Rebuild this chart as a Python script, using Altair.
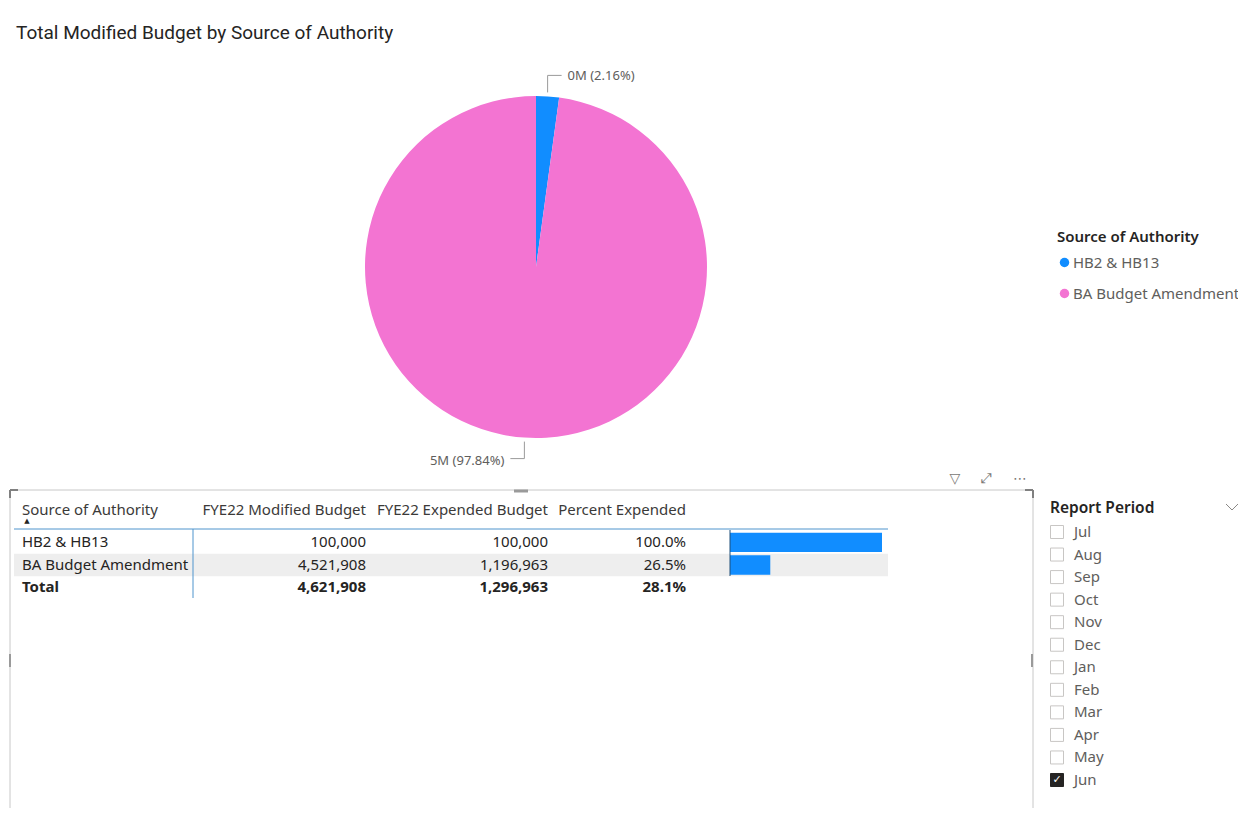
import altair as alt
import pandas as pd

# ---------------- data ----------------
TITLE = "Total Modified Budget by Source of Authority"
sources = ["HB2 & HB13", "BA Budget Amendment"]
modified = [100000, 4521908]
expended = [100000, 1196963]
pct_expended = [1.000, 0.265]
total_label = "Total"
total_modified = 4621908
total_expended = 1296963
total_pct = 0.281
pie_colors = ["#118DFF", "#F374D2"]
headers = ["Source of Authority", "FYE22 Modified Budget", "FYE22 Expended Budget", "Percent Expended"]
slicer_title = "Report Period"
months = ["Jul", "Aug", "Sep", "Oct", "Nov", "Dec", "Jan", "Feb", "Mar", "Apr", "May", "Jun"]
checked = [False, False, False, False, False, False, False, False, False, False, False, True]

FONT = "Segoe UI, Noto Sans, sans-serif"
TXT = "#252423"
GRAY = "#605e5c"
O = 8  # page margin offset


def P(v):
    return v - O


# ---------------- pie ----------------
pie_df = pd.DataFrame({"source": sources, "value": modified, "order": list(range(len(sources)))})
CX, CY, R = P(536), P(267), 171

pie = alt.Chart(pie_df).mark_arc(radius=R).encode(
    theta=alt.Theta("value:Q", stack=True),
    color=alt.Color(
        "source:N",
        scale=alt.Scale(domain=sources, range=pie_colors),
        legend=alt.Legend(
            orient="none", legendX=P(1057), legendY=P(230),
            title="Source of Authority", titleFont=FONT, titleFontSize=15,
            titleFontWeight=600, titleColor=TXT, titlePadding=10,
            labelFont=FONT, labelFontSize=15, labelColor=GRAY, labelOffset=1, labelLimit=0,
            symbolType="circle", symbolSize=90, symbolStrokeWidth=0, rowPadding=15,
        ),
    ),
    order=alt.Order("order:Q"),
    x=alt.value(CX),
    y=alt.value(CY),
)

lab_base = alt.Chart(pie_df).transform_joinaggregate(
    total="sum(value)"
).transform_window(
    cum="sum(value)", sort=[alt.SortField("order")]
).transform_calculate(
    mid="(datum.cum - datum.value/2)/datum.total*2*PI",
    px=f"{CX} + {R}*sin(datum.mid)",
    py=f"{CY} - {R}*cos(datum.mid)",
    vs="cos(datum.mid) >= 0 ? -1 : 1",
    hs="sin(datum.mid) >= 0 ? 1 : -1",
    ey="datum.py + datum.vs*21",
    y0="datum.py + datum.vs*4",
    ex="datum.px + datum.hs*14",
    tx="datum.px + datum.hs*20",
    label="format(datum.value/1e6, '.0f') + 'M (' + format(datum.value/datum.total, '.2%') + ')'",
)

lead_v = lab_base.mark_rule(color="#9a9a9a", strokeWidth=1).encode(
    x=alt.X("px:Q", scale=None), y=alt.Y("y0:Q", scale=None), y2="ey:Q"
)
lead_h = lab_base.mark_rule(color="#9a9a9a", strokeWidth=1).encode(
    x=alt.X("px:Q", scale=None), x2="ex:Q", y=alt.Y("ey:Q", scale=None)
)
lab_r = lab_base.transform_filter("datum.hs > 0").mark_text(
    align="left", baseline="middle", font=FONT, fontSize=13, color=GRAY, dy=1
).encode(x=alt.X("tx:Q", scale=None), y=alt.Y("ey:Q", scale=None), text="label:N")
lab_l = lab_base.transform_filter("datum.hs < 0").mark_text(
    align="right", baseline="middle", font=FONT, fontSize=13, color=GRAY, dy=2
).encode(x=alt.X("tx:Q", scale=None), y=alt.Y("ey:Q", scale=None), text="label:N")

title_df = pd.DataFrame({"t": [TITLE]})
title = alt.Chart(title_df).mark_text(
    align="left", baseline="alphabetic", font="Roboto", fontSize=19, fontWeight="normal", color=TXT
).encode(x=alt.value(P(16)), y=alt.value(P(39)), text="t:N")

# ---------------- table ----------------
rows = sources + [total_label]
tab_df = pd.DataFrame({
    "source": rows,
    "modified": modified + [total_modified],
    "expended": expended + [total_expended],
    "pct": pct_expended + [total_pct],
    "is_total": [False] * len(sources) + [True],
    "rn": list(range(len(rows))),
})

row_point = alt.Scale(type="point", domain=rows, range=[P(542), P(587)], padding=0)
row_band0 = alt.Scale(type="band", domain=rows, range=[P(531), P(599)], paddingInner=0, paddingOuter=0)
row_band = alt.Scale(type="band", domain=rows, range=[P(531), P(599)], paddingInner=0.15, paddingOuter=0.075)

stripe = alt.Chart(tab_df).transform_filter("datum.rn % 2 == 1 && !datum.is_total").mark_rect(
    color="#eeeeee"
).encode(x=alt.value(P(14)), x2=alt.value(P(888)), y=alt.Y("source:N", scale=row_band0, axis=None))

bars = alt.Chart(tab_df).transform_filter("!datum.is_total").mark_bar(color="#118DFF").encode(
    x=alt.X("pct:Q", scale=alt.Scale(domain=[0, 1], range=[P(730), P(882)]), axis=None),
    y=alt.Y("source:N", scale=row_band, axis=None),
)

col_x = {"source": P(22), "modified": P(366), "expended": P(548), "pct": P(686)}


def col_layer(field, align, fmt, bold):
    cond = "datum.is_total" if bold else "!datum.is_total"
    if fmt:
        txt = alt.Text(f"{field}:Q", format=fmt)
    else:
        txt = alt.Text(f"{field}:N")
    return alt.Chart(tab_df).transform_filter(cond).mark_text(
        align=align, baseline="middle", font=FONT, fontSize=15, color=TXT,
        fontWeight="bold" if bold else "normal",
    ).encode(x=alt.value(col_x[field]), y=alt.Y("source:N", scale=row_point, axis=None), text=txt)


table_layers = []
for b in (False, True):
    table_layers += [
        col_layer("source", "left", None, b),
        col_layer("modified", "right", ",", b),
        col_layer("expended", "right", ",", b),
        col_layer("pct", "right", ".1%", b),
    ]

hdr_df = pd.DataFrame({"h": headers, "key": ["source", "modified", "expended", "pct"]})
hdr_layers = []
for i, key in enumerate(["source", "modified", "expended", "pct"]):
    hdr_layers.append(
        alt.Chart(hdr_df).transform_filter(f"datum.key == '{key}'").mark_text(
            align="left" if key == "source" else "right", baseline="middle",
            font=FONT, fontSize=15, color="#3b3a39",
        ).encode(x=alt.value(col_x[key]), y=alt.value(P(510)), text="h:N")
    )

arrow_df = pd.DataFrame({"a": ["▲"]})
arrow = alt.Chart(arrow_df).mark_text(font="DejaVu Sans", fontSize=7, color=TXT).encode(
    x=alt.value(P(27)), y=alt.value(P(521)), text="a:N")


def rule(x1, y1, x2, y2, color, width=1):
    return alt.Chart(pd.DataFrame({"k": [0]})).mark_rule(color=color, strokeWidth=width).encode(
        x=alt.value(P(x1)), y=alt.value(P(y1)), x2=alt.value(P(x2)), y2=alt.value(P(y2)))


box = alt.Chart(pd.DataFrame({"k": [0]})).mark_rect(fill=None, stroke="#c8c8c8", strokeWidth=1).encode(
    x=alt.value(P(10)), x2=alt.value(P(1033)), y=alt.value(P(490)), y2=alt.value(P(840)))

decor = [
    rule(14, 529, 888, 529, "#4f94cd", 1),
    rule(193, 529, 193, 598, "#4f94cd", 1),
    rule(730, 530, 730, 576, "#1f4e79", 1),
    # selection handles
    rule(10, 490, 18, 490, "#808080", 2),
    rule(10, 490, 10, 498, "#808080", 2),
    rule(1025, 490, 1033, 490, "#808080", 2),
    rule(1033, 490, 1033, 498, "#808080", 2),
    rule(514, 491, 528, 491, "#9a9a9a", 3),
    rule(10, 654, 10, 667, "#9a9a9a", 2),
    rule(1032, 654, 1032, 667, "#9a9a9a", 2),
    # chevron
    rule(1226, 504, 1232, 510, "#8a8886", 1),
    rule(1232, 510, 1238, 504, "#8a8886", 1),
]

icons_df = pd.DataFrame({"i": ["▽", "⤢", "⋯"], "k": [0, 1, 2]})
icon_x = [P(955), P(986), P(1020)]
icons = [
    alt.Chart(icons_df).transform_filter(f"datum.k == {k}").mark_text(
        font="DejaVu Sans", fontSize=14, color="#7a7876", baseline="middle"
    ).encode(x=alt.value(icon_x[k]), y=alt.value(P(479)), text="i:N")
    for k in range(3)
]

# ---------------- slicer ----------------
sl_df = pd.DataFrame({"month": months, "checked": checked})
month_scale = alt.Scale(type="point", domain=months, range=[P(532), P(780)], padding=0)

sl_title = alt.Chart(pd.DataFrame({"t": [slicer_title]})).mark_text(
    align="left", baseline="middle", font=FONT, fontSize=15.5, fontWeight=600, color=TXT
).encode(x=alt.value(P(1050)), y=alt.value(P(508)), text="t:N")

boxes = alt.Chart(sl_df).mark_point(shape="square", size=169, strokeWidth=1, filled=False).encode(
    x=alt.value(P(1057)),
    y=alt.Y("month:N", scale=month_scale, axis=None),
    fill=alt.condition("datum.checked", alt.value(TXT), alt.value("white")),
    stroke=alt.condition("datum.checked", alt.value(TXT), alt.value("#c8c6c4")),
    opacity=alt.value(1), fillOpacity=alt.value(1),
)
checks = alt.Chart(sl_df).transform_filter("datum.checked").transform_calculate(c="'✓'").mark_text(
    font="DejaVu Sans", fontSize=11, color="white", baseline="middle"
).encode(x=alt.value(P(1057)), y=alt.Y("month:N", scale=month_scale, axis=None), text="c:N")
mlabels = alt.Chart(sl_df).mark_text(
    align="left", baseline="middle", font=FONT, fontSize=15, color=GRAY
).encode(x=alt.value(P(1074)), y=alt.Y("month:N", scale=month_scale, axis=None), text="month:N")

layers = [box, title, pie, lead_v, lead_h, lab_r, lab_l, stripe, bars] + decor + hdr_layers + [arrow] \
    + table_layers + icons + [sl_title, boxes, checks, mlabels]

chart = alt.layer(*layers).resolve_scale(
    x="independent", y="independent", color="independent", fill="independent", stroke="independent"
).properties(
    width=1230, height=800, padding=0, background="white",
    autosize=alt.AutoSizeParams(type="none"),
).configure_view(strokeWidth=0, stroke="transparent")

chart.save("out.html", embed_options={"renderer": "svg", "actions": False})
